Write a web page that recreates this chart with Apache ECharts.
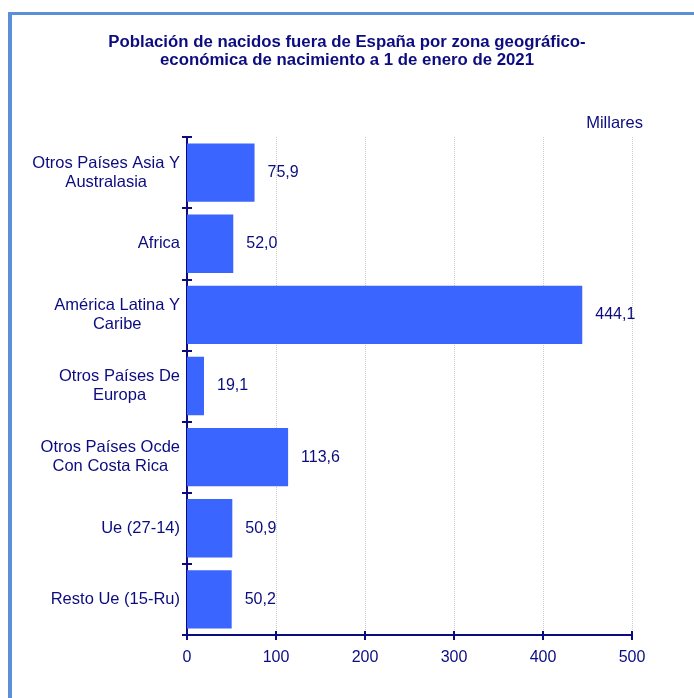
<!DOCTYPE html>
<html>
<head>
<meta charset="utf-8">
<script src="https://cdn.jsdelivr.net/npm/echarts@6/dist/echarts.min.js"></script>
<style>html,body{margin:0;padding:0;background:#fff}#c{width:694px;height:698px}</style>
</head>
<body>
<div id="c"></div>
<script>
const categories = [
  "Otros Países Asia Y\nAustralasia",
  "Africa",
  "América Latina Y\nCaribe",
  "Otros Países De\nEuropa",
  "Otros Países Ocde\nCon Costa Rica",
  "Ue (27-14)",
  "Resto Ue (15-Ru)"
];
const values = [75.9, 52.0, 444.1, 19.1, 113.6, 50.9, 50.2];
const xTicks = [0, 100, 200, 300, 400, 500];
const titleText = "Población de nacidos fuera de España por zona geográfico-\neconómica de nacimiento a 1 de enero de 2021";
const unitText = "Millares";

const navy = '#0c0c80';
const font = 'Liberation Sans, Arial, sans-serif';
const chart = echarts.init(document.getElementById('c'));
chart.setOption({
  animation: false,
  title: {
    text: titleText, left: 342, top: 28, textAlign: 'center',
    textStyle: { color: navy, fontSize: 16.8, fontWeight: 'bold', fontFamily: font, lineHeight: 18, align: 'center' }
  },
  graphic: [
    { type: 'rect', shape: { x: 8, y: 12, width: 686, height: 3 }, style: { fill: '#5b8fd8' } },
    { type: 'rect', shape: { x: 8, y: 12, width: 4, height: 686 }, style: { fill: '#5b8fd8' } },
    { type: 'text', right: 51, top: 115, style: { text: unitText, fill: navy, font: '16.5px ' + font } }
  ],
  grid: { left: 187, right: 62, top: 137, bottom: 63, containLabel: false },
  xAxis: [
    {
      type: 'value', min: xTicks[0], max: xTicks[xTicks.length - 1], interval: 100,
      axisLine: { show: true, lineStyle: { color: navy, width: 2 } },
      axisTick: { show: true, length: 5, lineStyle: { color: navy, width: 2 } },
      axisLabel: { color: navy, fontSize: 16, fontFamily: font, margin: 15 },
      splitLine: { show: true, lineStyle: { color: '#cccccc', type: 'dotted', width: 1 } }
    },
    {
      type: 'value', position: 'bottom', min: xTicks[0], max: xTicks[xTicks.length - 1], interval: 100,
      axisLine: { show: false },
      axisTick: { show: true, inside: true, length: 4, lineStyle: { color: navy, width: 2 } },
      axisLabel: { show: false }, splitLine: { show: false }
    }
  ],
  yAxis: [
    {
      type: 'category', inverse: true, data: categories,
      axisLine: { show: true, lineStyle: { color: navy, width: 2 } },
      axisTick: { show: true, length: 5, lineStyle: { color: navy, width: 2 } },
      axisLabel: {
        color: navy, fontSize: 16.5, fontFamily: font, margin: 7, lineHeight: 19,
        formatter: v => v.split('\n').map(s => '{c|' + s + '}').join('\n'),
        rich: { c: { align: 'center', color: navy, fontSize: 16.5, fontFamily: font, lineHeight: 19 } }
      }
    },
    {
      type: 'category', inverse: true, data: categories, position: 'left',
      axisLine: { show: false },
      axisTick: { show: true, inside: true, length: 5, lineStyle: { color: navy, width: 2 } },
      axisLabel: { show: false }
    }
  ],
  series: [{
    type: 'bar', data: values, barCategoryGap: '18%',
    itemStyle: { color: '#3a66ff' },
    label: {
      show: true, position: 'right', distance: 13, color: navy, fontSize: 16, fontFamily: font,
      formatter: p => p.value.toFixed(1).replace('.', ',')
    }
  }]
});
</script>
</body>
</html>
